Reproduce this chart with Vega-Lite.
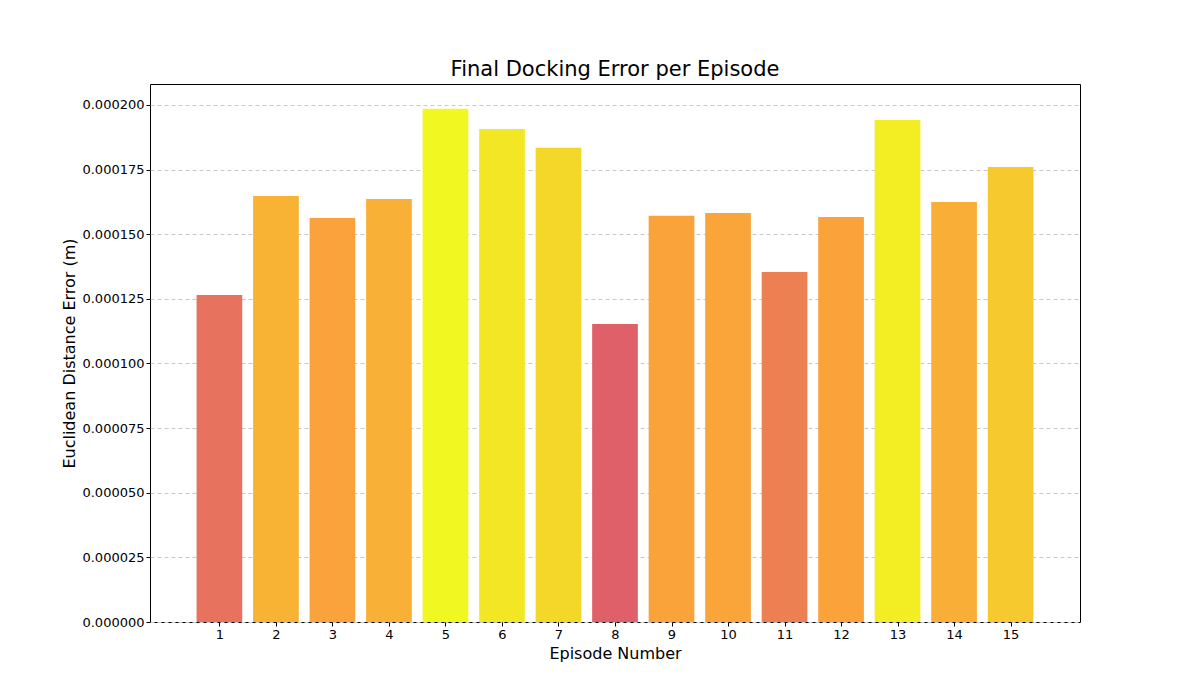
{
  "$schema": "https://vega.github.io/schema/vega-lite/v6.json",
  "width": 930,
  "height": 538,
  "autosize": {"type": "none"},
  "padding": {"left": 150, "top": 84, "right": 119, "bottom": 77},
  "background": "white",
  "title": {"text": "Final Docking Error per Episode", "fontSize": 21, "fontWeight": "normal", "font": "DejaVu Sans", "color": "black", "offset": 4},
  "data": {"values": [
    {"episode": 1, "error": 0.0001265},
    {"episode": 2, "error": 0.0001648},
    {"episode": 3, "error": 0.0001563},
    {"episode": 4, "error": 0.0001636},
    {"episode": 5, "error": 0.0001985},
    {"episode": 6, "error": 0.0001907},
    {"episode": 7, "error": 0.0001834},
    {"episode": 8, "error": 0.0001153},
    {"episode": 9, "error": 0.0001571},
    {"episode": 10, "error": 0.0001582},
    {"episode": 11, "error": 0.0001354},
    {"episode": 12, "error": 0.0001567},
    {"episode": 13, "error": 0.0001942},
    {"episode": 14, "error": 0.0001625},
    {"episode": 15, "error": 0.000176}
  ]},
  "mark": {"type": "bar", "width": 45.7},
  "encoding": {
    "x": {"field": "episode", "type": "quantitative", "scale": {"domain": [-0.14, 16.14], "nice": false, "zero": false},
      "axis": {"title": "Episode Number", "values": [1,2,3,4,5,6,7,8,9,10,11,12,13,14,15], "grid": false, "format": "d", "labelFlush": false}},
    "y": {"field": "error", "type": "quantitative", "scale": {"domain": [0, 0.0002081], "nice": false},
      "axis": {"title": "Euclidean Distance Error (m)", "values": [0, 0.000025, 0.00005, 0.000075, 0.0001, 0.000125, 0.00015, 0.000175, 0.0002], "format": ".6f", "gridDash": [4, 3], "gridColor": "#c8c8c8", "labelFlush": false}},
    "color": {"field": "error", "type": "quantitative", "legend": null,
      "scale": {"domain": [0.0001153, 0.000157, 0.0001985], "range": ["#e0606a", "#faa33a", "#f1f720"], "interpolate": "rgb"}}
  },
  "config": {
    "font": "DejaVu Sans",
    "view": {"stroke": "black", "strokeWidth": 1},
    "axis": {"labelFont": "DejaVu Sans", "titleFont": "DejaVu Sans", "labelFontSize": 13, "titleFontSize": 16, "titleFontWeight": "normal", "labelColor": "black", "titleColor": "black", "domain": false, "tickColor": "black", "tickSize": 4}
  }
}
